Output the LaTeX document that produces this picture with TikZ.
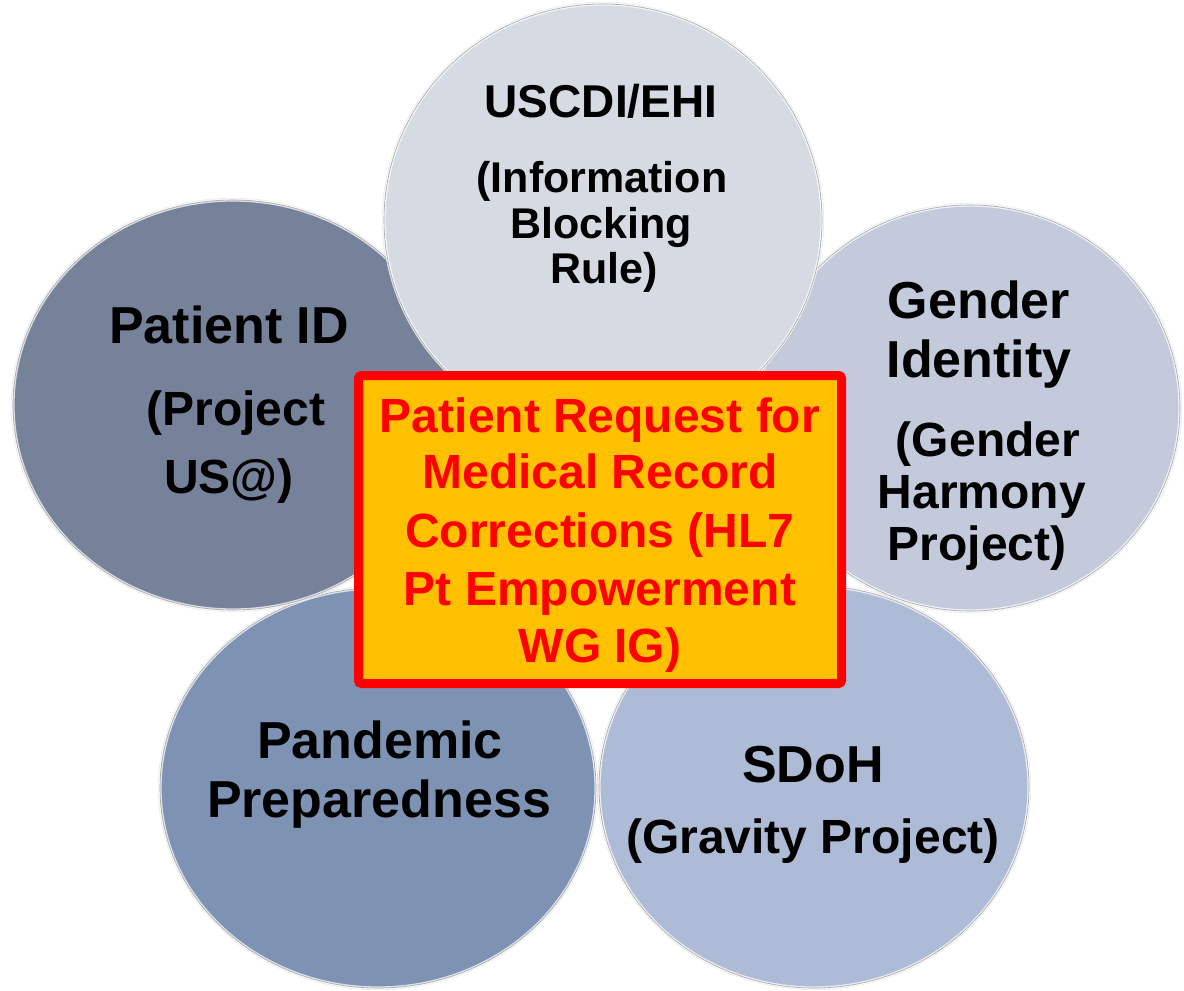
\documentclass[tikz,border=0pt]{standalone}
\usepackage{fontspec}
\setmainfont{Liberation Sans}
\usetikzlibrary{shapes.geometric}
\definecolor{cUS}{HTML}{D5DAE3}
\definecolor{cPID}{HTML}{768299}
\definecolor{cGI}{HTML}{C3CADC}
\definecolor{cPP}{HTML}{7E92B3}
\definecolor{cSD}{HTML}{AEBBD6}
\definecolor{boxorange}{HTML}{FFC000}
\definecolor{boxred}{HTML}{FF0000}
\tikzset{
  bubble/.style={ellipse, inner sep=0pt, draw=none,
    preaction={draw=black, opacity=0.10, line width=4pt},
    postaction={draw=white, opacity=0.75, line width=3.2pt},
    postaction={draw=black!35, line width=0.6pt}},
  txt/.style={anchor=base, inner sep=0pt, font=\bfseries},
  headA/.style={txt, font=\fontsize{52}{60}\selectfont\bfseries},
  headB/.style={txt, font=\fontsize{46}{54}\selectfont\bfseries},
  subA/.style={txt, font=\fontsize{48}{56}\selectfont\bfseries},
  subB/.style={txt, font=\fontsize{43}{50}\selectfont\bfseries},
  coretxt/.style={txt, text=boxred, font=\fontsize{48}{56}\selectfont\bfseries},
  corebox/.style={rectangle, draw=boxred, line width=9pt, fill=boxorange,
    rounded corners=3pt, inner sep=0pt}
}
\begin{document}
\begin{tikzpicture}[x=1pt,y=-1pt]
\useasboundingbox[fill=white] (0,0) rectangle (1184,991);
% circles (back to front)
\node[bubble, fill=cPP, minimum width=436pt, minimum height=400pt] (pp) at (378,788) {};
\node[bubble, fill=cSD, minimum width=430pt, minimum height=402pt] (sd) at (814,787) {};
\node[bubble, fill=cGI, minimum width=420pt, minimum height=406pt] (gi) at (970,408) {};
\node[bubble, fill=cPID, minimum width=440pt, minimum height=410pt] (pid) at (233,405) {};
\node[bubble, fill=cUS, minimum width=438pt, minimum height=432pt] (us) at (603,220) {};
% central box
\node[corebox, minimum width=483pt, minimum height=308pt] (core) at (600,529.5) {};
% texts
\node[headA] (pid-a) at (229,343) {Patient ID};
\node[subA]  (pid-b) at (236,425) {(Project};
\node[subA]  (pid-c) at (229,493) {US@)};
\node[headB] (us-a) at (601,117) {USCDI/EHI};
\node[subB]  (us-b) at (602,192) {(Information};
\node[subB]  (us-c) at (601,238) {Blocking};
\node[subB]  (us-d) at (604,283) {Rule)};
\node[headA] (gi-a) at (979,318) {Gender};
\node[headA] (gi-b) at (979,377) {Identity};
\node[subA]  (gi-c) at (988,456) {(Gender};
\node[subA]  (gi-d) at (982,508) {Harmony};
\node[subA]  (gi-e) at (977,560) {Project)};
\node[headA] (pp-a) at (380,758) {Pandemic};
\node[headA] (pp-b) at (379,817) {Preparedness};
\node[headA] (sd-a) at (813,782) {SDoH};
\node[subA]  (sd-b) at (813,853) {(Gravity Project)};
\node[coretxt] (core-a) at (600,432) {Patient Request for};
\node[coretxt] (core-b) at (600,488) {Medical Record};
\node[coretxt] (core-c) at (600,547) {Corrections (HL7};
\node[coretxt] (core-d) at (600,605) {Pt Empowerment};
\node[coretxt] (core-e) at (600,662) {WG IG)};
\end{tikzpicture}
\end{document}
